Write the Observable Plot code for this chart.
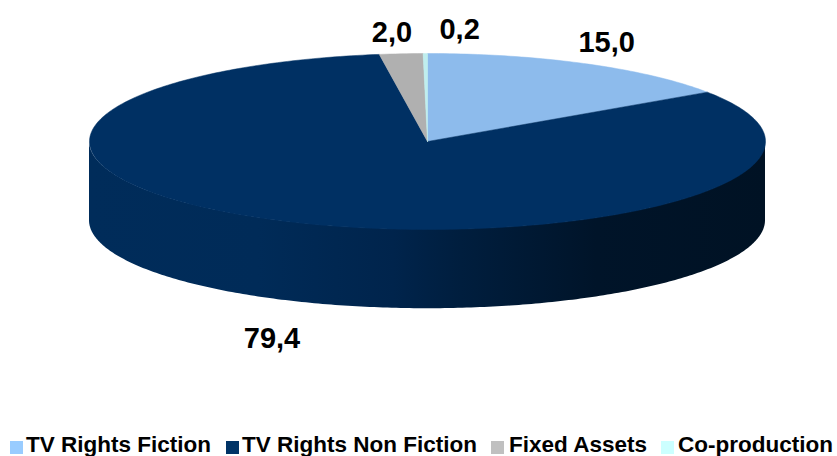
<!DOCTYPE html>
<html>
<head>
<meta charset="utf-8">
<script src="https://cdn.jsdelivr.net/npm/d3@7"></script>
<script src="https://cdn.jsdelivr.net/npm/@observablehq/plot@0.6"></script>
<style>
html,body{margin:0;padding:0;background:#fff;}
#chart{position:relative;width:837px;height:456px;overflow:hidden;font-family:"Liberation Sans",Arial,sans-serif;}
#chart svg{position:absolute;left:0;top:0;}
#legend{position:absolute;left:0;top:427px;width:837px;height:29px;font-weight:bold;font-size:22.5px;line-height:29px;color:#000;}
#legend span{position:absolute;top:3px;white-space:nowrap;}
#legend i{position:absolute;top:14px;width:13px;height:13px;}
</style>
</head>
<body>
<div id="chart"></div>
<script>
const categories = ["TV Rights Fiction", "TV Rights Non Fiction", "Fixed Assets", "Co-production"];
const values = [15.0, 79.4, 2.0, 0.2];
const valueLabels = ["15,0", "79,4", "2,0", "0,2"];
const faceColors = ["#8dbbec", "#003063", "#b0b0b0", "#bfeeee"];
const legendColors = ["#99ccff", "#003366", "#c0c0c0", "#ccffff"];

// Layout (not data)
const legendSwatchLeft = [10, 226, 491, 661];
const legendTextLeft = [26, 242, 509, 678];
const labelPlace = [[0.53, 1.12], [-0.46, -2.24], [-0.105, 1.24], [0.095, 1.27]];
const depth = 0.9;

const total = d3.sum(values);
let acc = 0;
const slices = values.map((v, i) => {
  const a0 = acc / total * 2 * Math.PI;
  acc += v;
  return {name: categories[i], label: valueLabels[i], a0, a1: acc / total * 2 * Math.PI, place: labelPlace[i]};
});

const facePoints = slices.flatMap(s => {
  const n = Math.max(2, Math.ceil((s.a1 - s.a0) * 60));
  const arc = d3.range(n + 1).map(k => {
    const a = s.a0 + (s.a1 - s.a0) * k / n;
    return {name: s.name, x: Math.sin(a), y: Math.cos(a)};
  });
  return [{name: s.name, x: 0, y: 0}, ...arc, {name: s.name, x: 0, y: 0}];
});

const sidePoints = d3.range(0, 241).map(k => {
  const a = Math.PI / 2 + Math.PI * k / 240;
  return {x: Math.sin(a), top: Math.cos(a), bottom: Math.cos(a) - depth};
});

const sideGradient = () => {
  const ns = "http://www.w3.org/2000/svg";
  const defs = document.createElementNS(ns, "defs");
  const g = document.createElementNS(ns, "linearGradient");
  g.setAttribute("id", "side");
  [[0, "#002c5a"], [0.25, "#002b58"], [0.45, "#00244c"], [0.55, "#001e3e"], [0.75, "#001429"], [1, "#001224"]].forEach(([o, c]) => {
    const s = document.createElementNS(ns, "stop");
    s.setAttribute("offset", o);
    s.setAttribute("stop-color", c);
    g.appendChild(s);
  });
  defs.appendChild(g);
  return defs;
};

const plot = Plot.plot({
  width: 837,
  height: 456,
  margin: 0,
  x: {axis: null, domain: [-1, 1], range: [89, 765]},
  y: {axis: null, domain: [-1, 1], range: [229, 53]},
  color: {domain: categories, range: faceColors},
  style: {background: "transparent"},
  marks: [
    sideGradient,
    Plot.areaY(sidePoints, {x: "x", y1: "top", y2: "bottom", fill: "url(#side)", curve: "linear"}),
    Plot.line(facePoints, {x: "x", y: "y", z: "name", fill: "name", stroke: "name", strokeWidth: 0.5, curve: "linear"}),
    Plot.text(slices, {
      x: d => d.place[0],
      y: d => d.place[1],
      text: "label",
      fill: "#000",
      fontSize: 29,
      fontWeight: "bold",
      fontFamily: "Liberation Sans, Arial, sans-serif"
    })
  ]
});
const chart = document.getElementById("chart");
chart.appendChild(plot);

const legend = document.createElement("div");
legend.id = "legend";
categories.forEach((c, i) => {
  const sw = document.createElement("i");
  sw.style.left = legendSwatchLeft[i] + "px";
  sw.style.background = legendColors[i];
  const t = document.createElement("span");
  t.style.left = legendTextLeft[i] + "px";
  t.textContent = c;
  legend.append(sw, t);
});
chart.appendChild(legend);
</script>
</body>
</html>
